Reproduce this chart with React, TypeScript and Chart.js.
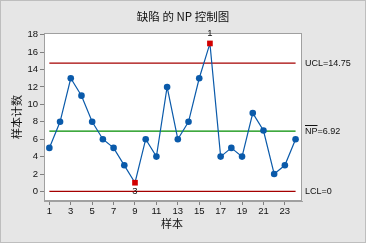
import React, { useEffect, useRef } from "react";
import { Chart, registerables } from "chart.js";

Chart.register(...registerables);

const samples = [1, 2, 3, 4, 5, 6, 7, 8, 9, 10, 11, 12, 13, 14, 15, 16, 17, 18, 19, 20, 21, 22, 23, 24];
const counts = [5, 8, 13, 11, 8, 6, 5, 3, 1, 6, 4, 12, 6, 8, 13, 17, 4, 5, 4, 9, 7, 2, 3, 6];
const flagged: Record<number, string> = { 9: "3", 16: "1" };
const ucl = 14.75;
const center = 6.92;
const lcl = 0;
const xTicks = [1, 3, 5, 7, 9, 11, 13, 15, 17, 19, 21, 23];
const yTicks = [0, 2, 4, 6, 8, 10, 12, 14, 16, 18];
const titleText = "缺陷 的 NP 控制图";
const yTitle = "样本计数";
const xTitle = "样本";

const BLUE = "#0A5AAA";
const RED_LINE = "#A50000";
const GREEN = "#008C00";
const RED_PT = "#D20000";
const FONT = "'Liberation Sans', 'Noto Sans CJK SC', sans-serif";
const CJK = "'Noto Sans CJK SC', sans-serif";
const TEXT = "#111111";

const decorPlugin = {
  id: "decor",
  beforeDraw(chart: any) {
    const { ctx, chartArea } = chart;
    ctx.save();
    ctx.fillStyle = "#E6E6E6";
    ctx.fillRect(0, 0, chart.width, chart.height);
    ctx.fillStyle = "#FFFFFF";
    ctx.fillRect(chartArea.left, chartArea.top, chartArea.right - chartArea.left, chartArea.bottom - chartArea.top);
    ctx.restore();
  },
  afterDraw(chart: any) {
    const { ctx, chartArea, scales } = chart;
    const y = scales.y;
    const x = scales.x;
    ctx.save();
    ctx.strokeStyle = "#A0A0A0";
    ctx.lineWidth = 1;
    ctx.strokeRect(chartArea.left + 0.5, chartArea.top + 0.5, chartArea.right - chartArea.left - 1, chartArea.bottom - chartArea.top - 1);
    ctx.strokeStyle = "#BEBEBE";
    ctx.strokeRect(0.5, 0.5, chart.width - 1, chart.height - 1);
    ctx.fillStyle = TEXT;
    ctx.font = `11.5px ${CJK}`;
    ctx.textAlign = "center";
    ctx.textBaseline = "middle";
    ctx.fillText(titleText, 183, 17);
    ctx.font = `11px ${CJK}`;
    ctx.fillText(xTitle, 172, 224);
    ctx.save();
    ctx.translate(17, 117);
    ctx.rotate(-Math.PI / 2);
    ctx.fillText(yTitle, 0, 0);
    ctx.restore();
    ctx.font = `9px ${FONT}`;
    ctx.textAlign = "left";
    const lx = chartArea.right + 3;
    ctx.fillText("UCL=14.75", lx, y.getPixelForValue(ucl));
    const cy = y.getPixelForValue(center);
    ctx.fillText("NP=6.92", lx, cy);
    const npw = ctx.measureText("NP").width;
    ctx.beginPath();
    ctx.moveTo(lx, Math.round(cy - 5) - 0.5);
    ctx.lineTo(lx + npw, Math.round(cy - 5) - 0.5);
    ctx.lineWidth = 1;
    ctx.strokeStyle = TEXT;
    ctx.stroke();
    ctx.fillText("LCL=0", lx, y.getPixelForValue(lcl));
    ctx.textAlign = "center";
    ctx.font = `9.5px ${FONT}`;
    samples.forEach((s, i) => {
      const lab = flagged[s];
      if (!lab) return;
      const px = x.getPixelForValue(s);
      const py = y.getPixelForValue(counts[i]);
      if (counts[i] > center) ctx.fillText(lab, px, py - 10);
      else ctx.fillText(lab, px, py + 9);
    });
    ctx.restore();
  },
};

export default function App() {
  const ref = useRef<HTMLCanvasElement>(null);
  useEffect(() => {
    if (!ref.current) return;
    const pts = samples.map((s, i) => ({ x: s, y: counts[i] }));
    const first = samples[0];
    const last = samples[samples.length - 1];
    const hline = (v: number) => [{ x: first, y: v }, { x: last, y: v }];
    const chart = new Chart(ref.current, {
      type: "line",
      data: {
        datasets: [
          { data: hline(ucl), borderColor: RED_LINE, borderWidth: 1.3, pointRadius: 0, order: 2 },
          { data: hline(center), borderColor: GREEN, borderWidth: 1.3, pointRadius: 0, order: 2 },
          { data: hline(lcl), borderColor: RED_LINE, borderWidth: 1.3, pointRadius: 0, order: 2 },
          {
            data: pts,
            borderColor: BLUE,
            borderWidth: 1.2,
            order: 1,
            pointStyle: samples.map((s) => (flagged[s] ? "rect" : "circle")) as any,
            pointRadius: samples.map((s) => (flagged[s] ? 4 : 3.3)),
            pointBackgroundColor: samples.map((s) => (flagged[s] ? RED_PT : BLUE)),
            pointBorderColor: samples.map((s) => (flagged[s] ? RED_PT : BLUE)),
            pointBorderWidth: 0,
          },
        ],
      },
      options: {
        animation: false,
        responsive: false,
        events: [],
        layout: { padding: { left: 0, top: 33, right: 64, bottom: 0 } },
        plugins: { legend: { display: false }, tooltip: { enabled: false }, title: { display: false } },
        scales: {
          x: {
            type: "linear",
            min: 0.5,
            max: 24.6,
            afterBuildTicks: (sc: any) => { sc.ticks = xTicks.map((v) => ({ value: v })); },
            afterFit: (sc: any) => { sc.height = 42; },
            grid: { drawOnChartArea: false, drawTicks: true, tickLength: 4, color: "#808080" },
            border: { color: "#A0A0A0" },
            ticks: { color: TEXT, font: { family: FONT, size: 9.5 }, padding: 1, maxRotation: 0, autoSkip: false },
          },
          y: {
            type: "linear",
            min: -1.1,
            max: 18.2,
            afterBuildTicks: (sc: any) => { sc.ticks = yTicks.map((v) => ({ value: v })); },
            afterFit: (sc: any) => { sc.width = 44; },
            grid: { drawOnChartArea: false, drawTicks: true, tickLength: 4, color: "#808080" },
            border: { color: "#A0A0A0" },
            ticks: { color: TEXT, font: { family: FONT, size: 9.5 }, padding: 2 },
          },
        },
      },
      plugins: [decorPlugin],
    } as any);
    return () => chart.destroy();
  }, []);
  return (
    <div style={{ position: "absolute", left: 0, top: 0, width: 366, height: 243 }}>
      <canvas ref={ref} width={366} height={243} style={{ display: "block", width: 366, height: 243 }} />
    </div>
  );
}
